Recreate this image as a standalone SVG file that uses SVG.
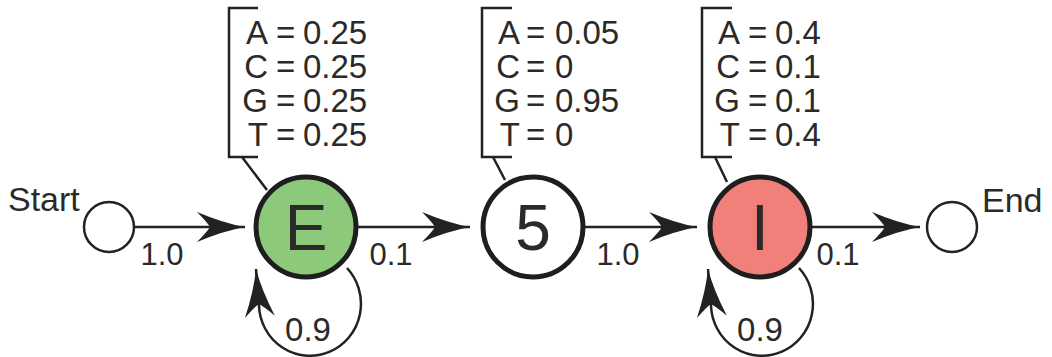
<svg xmlns="http://www.w3.org/2000/svg" width="1052" height="357" viewBox="0 0 1052 357">
<style>
.txt{font-family:"Liberation Sans",Arial,sans-serif;fill:#2a2a2a}
.emit{font-size:33px}
.lbl{font-size:31px;text-anchor:middle}
.lbl2{font-size:33px;text-anchor:middle}
.big{font-size:64px;text-anchor:middle}
.edge{fill:none;stroke:#222;stroke-width:2.5;marker-end:url(#ah)}
.brk{fill:none;stroke:#222;stroke-width:2.5}
.node{stroke:#1e1e1e;stroke-width:5}
.term{fill:#fff;stroke:#222;stroke-width:2.5}
</style>
<defs>
<marker id="ah" viewBox="-50 -18 52 36" refX="0" refY="0" markerWidth="52" markerHeight="36" markerUnits="userSpaceOnUse" orient="auto">
<path d="M0,0 Q-22,-4 -48,-15 Q-38,-5 -35,0 Q-38,5 -48,15 Q-22,4 0,0 Z" fill="#222"/>
</marker>
</defs>
<rect width="1052" height="357" fill="#fff"/>
<g id="connectors">
<path class="edge" d="M134,227 L245,227"/>
<path class="edge" d="M358,227 L470,227"/>
<path class="edge" d="M585,227 L697,227"/>
<path class="edge" d="M812,227 L920,227"/>
<path class="edge" d="M347,268 A51 52 0 1 1 259,306 L256,269"/>
<path class="edge" d="M799,268 A51 52 0 1 1 711,306 L708,269"/>
<text class="txt lbl" x="162" y="265">1.0</text>
<text class="txt lbl" x="391" y="265">0.1</text>
<text class="txt lbl" x="618" y="265">1.0</text>
<text class="txt lbl" x="838" y="265">0.1</text>
<text class="txt lbl2" x="308" y="341">0.9</text>
<text class="txt lbl2" x="760" y="341">0.9</text>
</g>
<g id="start">
<circle class="term" cx="109" cy="227" r="25"/>
<text class="txt" x="8" y="211" font-size="34">Start</text>
</g>
<g id="end">
<circle class="term" cx="952" cy="227" r="25"/>
<text class="txt" x="982" y="212" font-size="34">End</text>
</g>
<g id="emitE">
<path class="brk" d="M258,8 H229 V157 H258 M242,157 L267,190"/>
<g class="txt emit">
<text x="268" y="44" text-anchor="end">A</text><text x="276" y="44">=</text><text x="303" y="44">0.25</text>
<text x="268" y="78" text-anchor="end">C</text><text x="276" y="78">=</text><text x="303" y="78">0.25</text>
<text x="268" y="112" text-anchor="end">G</text><text x="276" y="112">=</text><text x="303" y="112">0.25</text>
<text x="268" y="146" text-anchor="end">T</text><text x="276" y="146">=</text><text x="303" y="146">0.25</text>
</g>
</g>
<g id="node-E">
<circle class="node" cx="306" cy="227" r="50" fill="#8dc97b"/>
<text class="txt big" x="306" y="250">E</text>
</g>
<g id="emit5">
<path class="brk" d="M512,8 H482 V157 H512 M493,157 L505,180"/>
<g class="txt emit">
<text x="520" y="44" text-anchor="end">A</text><text x="526" y="44">=</text><text x="555" y="44">0.05</text>
<text x="520" y="78" text-anchor="end">C</text><text x="526" y="78">=</text><text x="555" y="78">0</text>
<text x="520" y="112" text-anchor="end">G</text><text x="526" y="112">=</text><text x="555" y="112">0.95</text>
<text x="520" y="146" text-anchor="end">T</text><text x="526" y="146">=</text><text x="555" y="146">0</text>
</g>
</g>
<g id="node-5">
<circle class="node" cx="533" cy="227" r="50" fill="#fff"/>
<text class="txt big" x="533" y="250">5</text>
</g>
<g id="emitI">
<path class="brk" d="M732,8 H702 V157 H732 M715,157 L727,182"/>
<g class="txt emit">
<text x="740" y="44" text-anchor="end">A</text><text x="748" y="44">=</text><text x="775" y="44">0.4</text>
<text x="740" y="78" text-anchor="end">C</text><text x="748" y="78">=</text><text x="775" y="78">0.1</text>
<text x="740" y="112" text-anchor="end">G</text><text x="748" y="112">=</text><text x="775" y="112">0.1</text>
<text x="740" y="146" text-anchor="end">T</text><text x="748" y="146">=</text><text x="775" y="146">0.4</text>
</g>
</g>
<g id="node-I">
<circle class="node" cx="760" cy="227" r="50" fill="#f2807a"/>
<text class="txt big" x="760" y="250">I</text>
</g>
</svg>
